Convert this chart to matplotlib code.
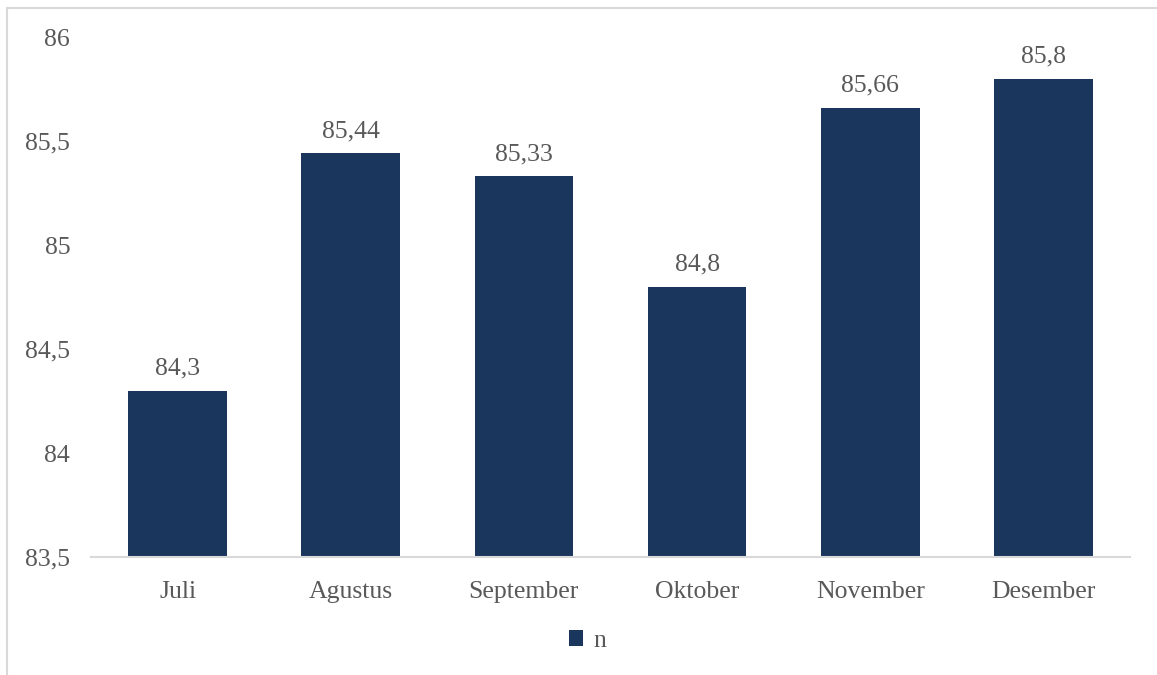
import matplotlib
matplotlib.use("Agg")
import matplotlib.pyplot as plt
from matplotlib.lines import Line2D
from matplotlib.patches import Patch

categories = ["Juli", "Agustus", "September", "Oktober", "November", "Desember"]
values = [84.3, 85.44, 85.33, 84.8, 85.66, 85.8]
value_labels = ["84,3", "85,44", "85,33", "84,8", "85,66", "85,8"]
yticks = [83.5, 84, 84.5, 85, 85.5, 86]
ytick_labels = ["83,5", "84", "84,5", "85", "85,5", "86"]
series_name = "n"

bar_color = "#1b365d"
text_color = "#595959"
serif = ["Liberation Serif", "DejaVu Serif"]
fs = 18.5

W, H = 1157, 675
fig = plt.figure(figsize=(W / 100, H / 100), dpi=100)
ax = fig.add_axes([91 / W, 1 - 557 / H, (1130 - 91) / W, (557 - 37) / H])

x = range(len(categories))
bars = ax.bar(x, values, width=0.57, color=bar_color, zorder=2)
ax.set_ylim(83.5, 86)
ax.set_xlim(-0.5, len(categories) - 0.5)
ax.set_yticks(yticks)
ax.set_yticklabels(ytick_labels, fontfamily=serif, fontsize=fs, color=text_color)
ax.set_xticks(list(x))
ax.set_xticklabels(categories, fontfamily=serif, fontsize=fs, color=text_color)
ax.tick_params(axis="both", length=0)
ax.tick_params(axis="y", pad=15)
ax.tick_params(axis="x", pad=17)
for s in ["top", "right", "left"]:
    ax.spines[s].set_visible(False)
ax.spines["bottom"].set_color("#d9d9d9")
ax.spines["bottom"].set_linewidth(1.5)

for xi, v, lab in zip(x, values, value_labels):
    ax.annotate(lab, (xi, v), xytext=(0, 8), textcoords="offset points",
                ha="center", va="bottom", fontfamily=serif, fontsize=fs, color=text_color)

handle = Patch(facecolor=bar_color, edgecolor="none")
leg = fig.legend([handle], [series_name], loc="center", bbox_to_anchor=(588 / W, 1 - 641 / H),
                 frameon=False, handlelength=0.55, handleheight=0.55, handletextpad=0.4,
                 prop={"family": serif, "size": fs})
for t in leg.get_texts():
    t.set_color(text_color)

# chart-area border (cropped on right/bottom)
bx = 6.5 / W
by = 1 - 7.5 / H
fig.add_artist(Line2D([bx, bx], [0, by], transform=fig.transFigure, color="#d9d9d9", lw=1.5))
fig.add_artist(Line2D([bx, 1], [by, by], transform=fig.transFigure, color="#d9d9d9", lw=1.5))

fig.savefig("out.png", dpi=100)
